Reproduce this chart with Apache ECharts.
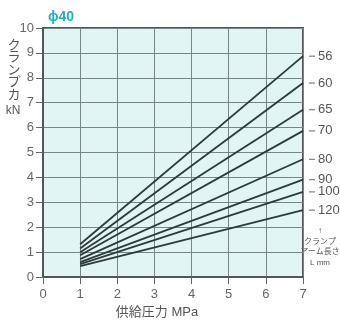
<!DOCTYPE html>
<html><head><meta charset="utf-8">
<script src="https://cdn.jsdelivr.net/npm/echarts@6/dist/echarts.min.js"></script>
<style>html,body{margin:0;padding:0;background:#fff}#c{width:340px;height:324px}</style>
</head><body><div id="c"></div>
<script>
const armLengths = ['56','60','65','70','80','90','100','120'];
const pressures = [1, 7];
const forceAt1 = [1.32, 1.15, 1.0, 0.88, 0.72, 0.6, 0.52, 0.44];
const forceAt7 = [8.87, 7.79, 6.72, 5.87, 4.73, 3.91, 3.42, 2.69];
const xTicks = [0,1,2,3,4,5,6,7];
const yTicks = [0,1,2,3,4,5,6,7,8,9,10];

const FONT = '"Liberation Sans","Noto Sans CJK JP",sans-serif';
const chart = echarts.init(document.getElementById('c'));
const series = armLengths.map((name, i) => ({
  name: name,
  type: 'line',
  data: [[pressures[0], forceAt1[i]], [pressures[1], forceAt7[i]]],
  symbol: 'none',
  lineStyle: {color: '#2c3b37', width: 1.8},
  silent: true,
  endLabel: {
    show: true,
    distance: 6,
    formatter: '{d|}{t|' + name + '}',
    rich: {
      d: {width: 6, height: 1, backgroundColor: '#666'},
      t: {fontSize: 13, color: '#555', padding: [0,0,0,3], fontFamily: FONT}
    }
  }
}));

chart.setOption({
  animation: false,
  title: {text: 'ϕ40', left: 43, top: 5, textStyle: {color: '#1fb0bc', fontSize: 14, fontWeight: 'bold', fontFamily: FONT}},
  grid: {left: 43, right: 37, top: 28, bottom: 41, show: true, backgroundColor: '#e1f5f5', borderColor: '#555', borderWidth: 2},
  xAxis: {
    type: 'value', min: 0, max: 7, interval: 1,
    name: '供給圧力 MPa', nameLocation: 'middle', nameGap: 28,
    nameTextStyle: {fontSize: 13, color: '#555', fontFamily: FONT, padding: [0, 32, 0, 0]},
    axisLine: {lineStyle: {color: '#555', width: 2}},
    axisTick: {show: true, length: 7, lineStyle: {color: '#666', width: 1}},
    axisLabel: {fontSize: 13, color: '#666', margin: 11, fontFamily: FONT, formatter: v => xTicks.includes(v) ? String(v) : ''},
    splitLine: {show: true, lineStyle: {color: '#768585', width: 1}}
  },
  yAxis: {
    type: 'value', min: 0, max: 10, interval: 1,
    axisLine: {show: true, lineStyle: {color: '#555', width: 2}},
    axisTick: {show: true, length: 7, lineStyle: {color: '#666', width: 1}},
    axisLabel: {fontSize: 13, color: '#666', margin: 9, fontFamily: FONT, formatter: v => yTicks.includes(v) ? String(v) : ''},
    splitLine: {show: true, lineStyle: {color: '#768585', width: 1}}
  },
  graphic: [
    {type: 'text', style: {x: 14, y: 39, text: 'ク\nラ\nン\nプ\nカ', align: 'center', lineHeight: 12.5, fill: '#555', font: '13px ' + FONT}},
    {type: 'text', style: {x: 13, y: 105, text: 'kN', align: 'center', fill: '#555', font: '12px ' + FONT}},
    {type: 'text', style: {x: 320, y: 226, text: '↑\nクランプ\nアーム長さ\nL mm', align: 'center', lineHeight: 10.5, fill: '#555', font: '8px ' + FONT}}
  ],
  series: series
});
</script></body></html>
